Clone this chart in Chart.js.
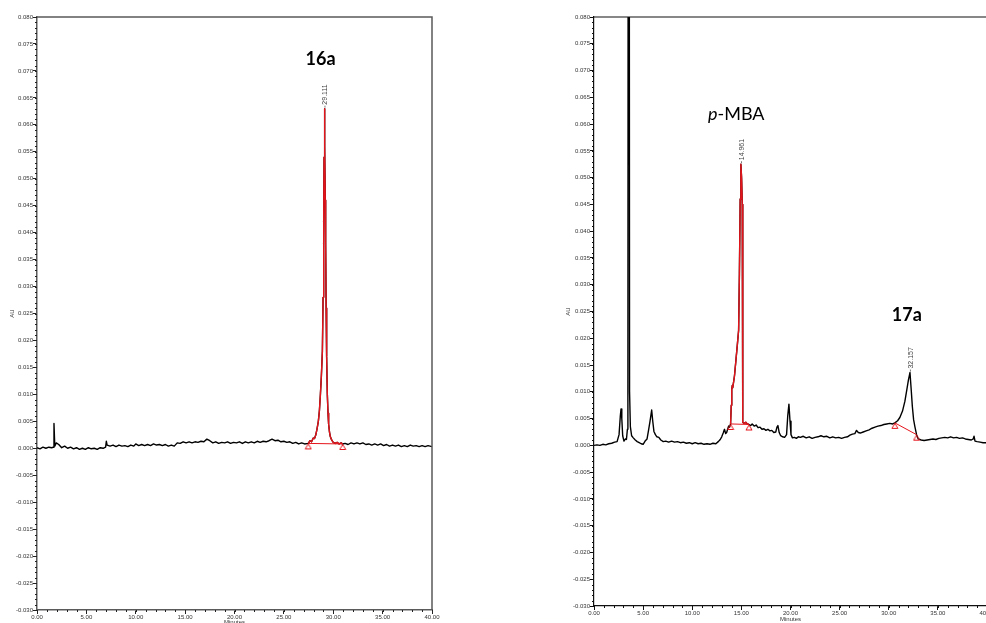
<!DOCTYPE html>
<html><head><meta charset="utf-8">
<script src="https://cdn.jsdelivr.net/npm/chart.js@4"></script>
<style>
html,body{margin:0;padding:0;background:#fff;overflow:hidden;width:986px;height:623px}
.box{position:absolute;top:0}
canvas{display:block}
</style></head><body>
<div class="box" style="left:0"><canvas id="c16a" width="480" height="632"></canvas></div>
<div class="box" style="left:540px"><canvas id="c17a" width="470" height="623"></canvas></div>
<script>
// ---------- data ----------
const yRange = [-0.03, 0.08];
const yStep = 0.005, yMinorStep = 0.001;
const xRange = [0, 40];
const xStep = 5, xMinorStep = 1;

// chromatogram 16a (minutes / AU)
const time16a = [
  0, 0.3, 0.6, 0.9, 1.2, 1.5, 1.65, 1.72, 1.8, 1.95,
  2.2, 2.5, 2.8, 3.1, 3.4, 3.7, 4.0, 4.3, 4.6, 4.9,
  5.2, 5.5, 5.8, 6.1, 6.4, 6.7, 6.95, 7.02, 7.1, 7.4,
  7.7, 8.0, 8.3, 8.6, 8.9, 9.2, 9.5, 9.8, 10.0, 10.3,
  10.6, 10.9, 11.2, 11.5, 11.8, 12.1, 12.4, 12.7, 13.0, 13.3,
  13.6, 13.9, 14.2, 14.5, 14.8, 15.1, 15.4, 15.7, 16.0, 16.3,
  16.6, 16.9, 17.2, 17.5, 17.8, 18.1, 18.4, 18.7, 19.0, 19.3,
  19.6, 19.9, 20.2, 20.5, 20.8, 21.1, 21.4, 21.7, 22.0, 22.3,
  22.6, 22.9, 23.2, 23.5, 23.8, 24.1, 24.4, 24.7, 25.0, 25.3,
  25.6, 25.9, 26.2, 26.5, 26.8, 27.1, 27.47, 27.65, 27.8, 27.98,
  28.1, 28.22, 28.35, 28.49, 28.6, 28.7, 28.8, 28.9, 28.97, 29.03,
  29.07, 29.11, 29.15, 29.19, 29.23, 29.28, 29.33, 29.4, 29.47, 29.53,
  29.62, 29.7, 29.85, 30.0, 30.2, 30.4, 30.6, 30.8, 30.95, 31.2,
  31.5, 31.8, 32.1, 32.4, 32.7, 33.0, 33.3, 33.6, 33.9, 34.2,
  34.5, 34.8, 35.1, 35.4, 35.7, 36.0, 36.3, 36.6, 36.9, 37.2,
  37.5, 37.8, 38.1, 38.4, 38.7, 39.0, 39.3, 39.6, 40.0
];
const au16a = [
  0.0001, -0.0001, 0.0002, 0.0000, 0.0002, 0.0001, 0.0002, 0.0046, 0.0004, 0.0010,
  0.0007, 0.0001, 0.0004, 0.0000, 0.0002, -0.0001, 0.0001, -0.0002, 0.0000, -0.0002,
  0.0001, -0.0001, 0.0000, -0.0002, 0.0001, 0.0000, 0.0002, 0.0013, 0.0006, 0.0004,
  0.0006, 0.0003, 0.0006, 0.0004, 0.0005, 0.0003, 0.0006, 0.0004, 0.0008, 0.0005,
  0.0007, 0.0005, 0.0007, 0.0005, 0.0008, 0.0006, 0.0007, 0.0005, 0.0007, 0.0004,
  0.0006, 0.0004, 0.0010, 0.0009, 0.0012, 0.0010, 0.0012, 0.0010, 0.0012, 0.0011,
  0.0013, 0.0012, 0.0017, 0.0014, 0.0010, 0.0012, 0.0009, 0.0011, 0.0010, 0.0012,
  0.0009, 0.0011, 0.0010, 0.0012, 0.0009, 0.0012, 0.0010, 0.0012, 0.0010, 0.0013,
  0.0011, 0.0013, 0.0012, 0.0014, 0.0017, 0.0014, 0.0015, 0.0012, 0.0013, 0.0011,
  0.0012, 0.0009, 0.0011, 0.0008, 0.0010, 0.0008, 0.0009, 0.0014, 0.0012, 0.0019,
  0.0018, 0.0024, 0.0035, 0.0050, 0.0070, 0.0100, 0.0135, 0.0180, 0.0280, 0.0420,
  0.0540, 0.0630, 0.0560, 0.0460, 0.0380, 0.0260, 0.0170, 0.0100, 0.0065, 0.0045,
  0.0030, 0.0022, 0.0015, 0.0011, 0.0009, 0.0011, 0.0008, 0.0010, 0.0008, 0.0009,
  0.0007, 0.0010, 0.0008, 0.0010, 0.0008, 0.0010, 0.0007, 0.0008, 0.0006, 0.0008,
  0.0006, 0.0008, 0.0005, 0.0007, 0.0004, 0.0006, 0.0004, 0.0006, 0.0003, 0.0005,
  0.0003, 0.0006, 0.0004, 0.0005, 0.0003, 0.0005, 0.0003, 0.0005, 0.0003
];
const peakRT16a = [29.111];
const baseT16a = [27.47, 30.95];
const baseV16a = [0.0009, 0.0008];

// chromatogram 17a / p-MBA
const time17a = [
  0, 0.3, 0.6, 0.9, 1.2, 1.5, 1.8, 2.1, 2.35, 2.55,
  2.68, 2.75, 2.83, 2.92, 3.05, 3.2, 3.3, 3.4, 3.45, 3.53,
  3.62, 3.7, 3.83, 4.0, 4.2, 4.4, 4.6, 4.8, 5.0, 5.2,
  5.4, 5.55, 5.7, 5.87, 5.98, 6.1, 6.25, 6.4, 6.6, 6.8,
  7.05, 7.3, 7.6, 7.9, 8.2, 8.5, 8.8, 9.1, 9.4, 9.7,
  10.0, 10.3, 10.6, 10.9, 11.2, 11.5, 11.8, 12.1, 12.4, 12.65,
  12.85, 13.0, 13.15, 13.28, 13.4, 13.5, 13.6, 13.7, 13.8, 13.9,
  13.97, 14.02, 14.08, 14.12, 14.18, 14.3, 14.45, 14.6, 14.72, 14.8,
  14.88, 14.95, 15.02, 15.09, 15.12, 15.16, 15.3, 15.45, 15.6, 15.77,
  15.95, 16.1, 16.3, 16.5, 16.7, 16.9, 17.1, 17.3, 17.5, 17.7,
  17.9, 18.1, 18.3, 18.5, 18.62, 18.72, 18.85, 19.0, 19.2, 19.4,
  19.6, 19.72, 19.84, 19.95, 20.05, 20.2, 20.4, 20.6, 20.8, 21.0,
  21.3, 21.6, 21.9, 22.2, 22.5, 22.8, 23.1, 23.4, 23.7, 24.0,
  24.3, 24.6, 24.9, 25.2, 25.5, 25.8, 26.05, 26.3, 26.55, 26.72,
  26.9, 27.1, 27.4, 27.7, 28.0, 28.3, 28.6, 28.9, 29.2, 29.5,
  29.8, 30.1, 30.4, 30.62, 30.9, 31.13, 31.4, 31.64, 31.85, 32.0,
  32.16, 32.3, 32.4, 32.53, 32.66, 32.83, 33.0, 33.3, 33.6, 33.9,
  34.2, 34.5, 34.8, 35.1, 35.4, 35.7, 36.0, 36.3, 36.6, 36.9,
  37.2, 37.5, 37.8, 38.1, 38.4, 38.6, 38.68, 38.78, 39.0, 39.3,
  39.6, 40.0
];
const au17a = [
  0.0000, 0.0001, 0.0000, 0.0002, 0.0001, 0.0003, 0.0004, 0.0006, 0.0007, 0.0020,
  0.0055, 0.0068, 0.0050, 0.0018, 0.0008, 0.0012, 0.0011, 0.0030, 0.0100, 0.3000,
  0.0100, 0.0035, 0.0018, 0.0014, 0.0010, 0.0007, 0.0005, 0.0003, 0.0002, 0.0008,
  0.0012, 0.0028, 0.0045, 0.0066, 0.0045, 0.0026, 0.0020, 0.0016, 0.0015, 0.0010,
  0.0007, 0.0008, 0.0006, 0.0008, 0.0006, 0.0007, 0.0005, 0.0006, 0.0004, 0.0005,
  0.0003, 0.0005, 0.0003, 0.0004, 0.0002, 0.0003, 0.0002, 0.0004, 0.0003, 0.0007,
  0.0011, 0.0016, 0.0023, 0.0030, 0.0022, 0.0024, 0.0030, 0.0036, 0.0034, 0.0040,
  0.0075, 0.0105, 0.0112, 0.0108, 0.0115, 0.0130, 0.0160, 0.0190, 0.0215, 0.0320,
  0.0460, 0.0525, 0.0500, 0.0450, 0.0260, 0.0043, 0.0041, 0.0043, 0.0040, 0.0039,
  0.0037, 0.0040, 0.0036, 0.0038, 0.0033, 0.0034, 0.0030, 0.0031, 0.0028, 0.0030,
  0.0027, 0.0028, 0.0024, 0.0025, 0.0034, 0.0037, 0.0024, 0.0018, 0.0016, 0.0015,
  0.0020, 0.0055, 0.0077, 0.0045, 0.0020, 0.0014, 0.0015, 0.0013, 0.0016, 0.0015,
  0.0017, 0.0014, 0.0016, 0.0013, 0.0015, 0.0016, 0.0018, 0.0016, 0.0017, 0.0014,
  0.0016, 0.0014, 0.0015, 0.0013, 0.0015, 0.0016, 0.0019, 0.0021, 0.0022, 0.0028,
  0.0024, 0.0023, 0.0025, 0.0027, 0.0029, 0.0032, 0.0034, 0.0036, 0.0037, 0.0039,
  0.0040, 0.0041, 0.0040, 0.0042, 0.0046, 0.0052, 0.0064, 0.0082, 0.0105, 0.0122,
  0.0136, 0.0100, 0.0073, 0.0048, 0.0035, 0.0020, 0.0012, 0.0010, 0.0009, 0.0010,
  0.0011, 0.0012, 0.0011, 0.0013, 0.0014, 0.0015, 0.0014, 0.0016, 0.0014, 0.0015,
  0.0013, 0.0014, 0.0012, 0.0011, 0.0010, 0.0012, 0.0017, 0.0008, 0.0007, 0.0006,
  0.0005, 0.0005
];
const peakRT17a = [14.961, 32.157];
const baseT_pMBA = [13.9, 15.77];
const baseV_pMBA = [0.0040, 0.0039];
const baseT_17a = [30.62, 32.83];
const baseV_17a = [0.0042, 0.0020];

// ---------- drawing ----------
const RED = '#e5141b';
const TICK_FONT = {family: '"Liberation Sans", Arial, sans-serif', size: 6};

function triangleMarker(color) {
  const c = document.createElement('canvas');
  c.width = 8; c.height = 14;
  const g = c.getContext('2d');
  g.strokeStyle = color; g.lineWidth = 1;
  g.beginPath(); g.moveTo(4, 7.5); g.lineTo(7, 12.5); g.lineTo(1, 12.5); g.closePath(); g.stroke();
  return c;
}
const TRI = triangleMarker(RED);

const decor = {
  id: 'decor',
  afterDraw(chart, args, o) {
    const {ctx, chartArea: a, scales: {x, y}} = chart;
    ctx.save();
    ctx.strokeStyle = o.axisColor; ctx.lineWidth = o.axisWidth;
    ctx.beginPath();
    ctx.moveTo(a.left, a.top); ctx.lineTo(a.right, a.top); ctx.lineTo(a.right, a.bottom);
    ctx.stroke();
    ctx.strokeStyle = o.tickColor; ctx.lineWidth = 1;
    ctx.beginPath();
    const ny = Math.round((y.max - y.min) / yMinorStep);
    for (let i = 0; i <= ny; i++) {
      const py = Math.round(y.getPixelForValue(y.min + i * yMinorStep)) + 0.5;
      ctx.moveTo(a.left - 2, py); ctx.lineTo(a.left, py);
    }
    const nx = Math.round((x.max - x.min) / xMinorStep);
    for (let i = 0; i <= nx; i++) {
      const px = Math.round(x.getPixelForValue(x.min + i * xMinorStep)) + 0.5;
      ctx.moveTo(px, a.bottom); ctx.lineTo(px, a.bottom + 2);
    }
    ctx.stroke();
    const trace = chart.data.datasets[0].data;
    (o.peaks || []).forEach(rt => {
      let apex = -Infinity;
      trace.forEach(p => { if (Math.abs(p.x - rt) < 0.1 && p.y > apex) apex = p.y; });
      const px = x.getPixelForValue(rt), py = y.getPixelForValue(apex);
      ctx.strokeStyle = '#555'; ctx.lineWidth = 0.8;
      ctx.beginPath(); ctx.moveTo(px + 0.5, py - 1); ctx.lineTo(px + 0.5, py - 3); ctx.stroke();
      ctx.save();
      ctx.translate(px + 1, py - 4);
      ctx.rotate(-Math.PI / 2);
      ctx.font = '7px "Liberation Sans", Arial, sans-serif';
      ctx.fillStyle = '#444'; ctx.textAlign = 'left'; ctx.textBaseline = 'middle';
      ctx.fillText(rt.toFixed(3), 0, 0);
      ctx.restore();
    });
    (o.labels || []).forEach(l => {
      const px = x.getPixelForValue(l.t), py = y.getPixelForValue(l.v);
      ctx.fillStyle = '#000'; ctx.textBaseline = 'middle'; ctx.textAlign = 'left';
      const fonts = l.parts.map(p => `${p.italic ? 'italic ' : ''}${p.bold ? 'bold ' : ''}${l.size}px Lato, "Open Sans", sans-serif`);
      let w = 0;
      l.parts.forEach((p, i) => { ctx.font = fonts[i]; w += ctx.measureText(p.text).width; });
      let cx = l.align === 'center' ? px - w / 2 : px;
      l.parts.forEach((p, i) => { ctx.font = fonts[i]; ctx.fillText(p.text, cx, py); cx += ctx.measureText(p.text).width; });
    });
    ctx.restore();
  }
};

function makeChart(id, cfg) {
  const pts = cfg.t.map((t, i) => ({x: t, y: cfg.v[i]}));
  const datasets = [{data: pts, borderColor: '#000', borderWidth: 1.4, pointRadius: 0, borderJoinStyle: 'round', order: 5}];
  cfg.integrations.forEach(g => {
    if (g.redTrace) {
      datasets.push({data: pts.filter(p => p.x >= g.t[0] && p.x <= g.t[1]), borderColor: RED, borderWidth: 1.4,
        pointRadius: 0, borderJoinStyle: 'round', order: 3});
    }
    datasets.push({data: g.t.map((t, i) => ({x: t, y: g.v[i]})), borderColor: RED, borderWidth: 1,
      pointStyle: TRI, pointRadius: 4, order: 1});
  });
  const ac = cfg.axisColor;
  return new Chart(document.getElementById(id), {
    type: 'line',
    data: {datasets},
    options: {
      responsive: false, animation: false, events: [],
      layout: {padding: {left: 0, top: 17, right: cfg.padRight, bottom: 0}},
      plugins: {
        legend: {display: false}, tooltip: {enabled: false},
        decor: {axisColor: ac, axisWidth: cfg.axisWidth, tickColor: cfg.tickColor, peaks: cfg.peaks, labels: cfg.labels}
      },
      scales: {
        x: {
          type: 'linear', min: xRange[0], max: xRange[1],
          ticks: {stepSize: xStep, autoSkip: false, maxRotation: 0, padding: 0, font: TICK_FONT, color: '#333',
            callback: v => v.toFixed(2)},
          grid: {drawOnChartArea: false, tickLength: 4, color: cfg.tickColor},
          border: {color: ac, width: cfg.axisWidth},
          title: {display: true, text: 'Minutes', font: TICK_FONT, color: '#333', padding: {top: 0, bottom: cfg.xTitlePad}},
          afterFit(s) { s.height = cfg.xH; }
        },
        y: {
          type: 'linear', min: yRange[0], max: yRange[1],
          ticks: {stepSize: yStep, autoSkip: false, padding: 0, font: TICK_FONT, color: '#333',
            callback: v => (Math.abs(v) < 1e-9 ? 0 : v).toFixed(3)},
          grid: {drawOnChartArea: false, tickLength: 4, color: cfg.tickColor},
          border: {color: ac, width: cfg.axisWidth},
          title: {display: true, text: 'AU', font: TICK_FONT, color: '#333', padding: {top: cfg.yTitlePad, bottom: 0}},
          afterFit(s) { s.width = cfg.yW; }
        }
      }
    },
    plugins: [decor]
  });
}

makeChart('c16a', {
  t: time16a, v: au16a,
  integrations: [{t: baseT16a, v: baseV16a, redTrace: true}],
  peaks: peakRT16a,
  labels: [{t: 28.71, v: 0.0721, size: 18, align: 'center', parts: [{text: '16a', bold: true}]}],
  axisColor: '#5a5a5a', axisWidth: 1.5, tickColor: '#222',
  padRight: 48, xH: 22, yW: 37, xTitlePad: 5.6, yTitlePad: 8.4
});

makeChart('c17a', {
  t: time17a, v: au17a,
  integrations: [
    {t: baseT_pMBA, v: baseV_pMBA, redTrace: true},
    {t: baseT_17a, v: baseV_17a, redTrace: false}
  ],
  peaks: peakRT17a,
  labels: [
    {t: 11.6, v: 0.0618, size: 18, align: 'left', parts: [{text: 'p', italic: true}, {text: '-MBA'}]},
    {t: 31.84, v: 0.0244, size: 18, align: 'center', parts: [{text: '17a', bold: true}]}
  ],
  axisColor: '#111', axisWidth: 1.2, tickColor: '#111',
  padRight: 23, xH: 17, yW: 54, xTitlePad: 0, yTitlePad: 24.4
});
</script>
</body></html>
